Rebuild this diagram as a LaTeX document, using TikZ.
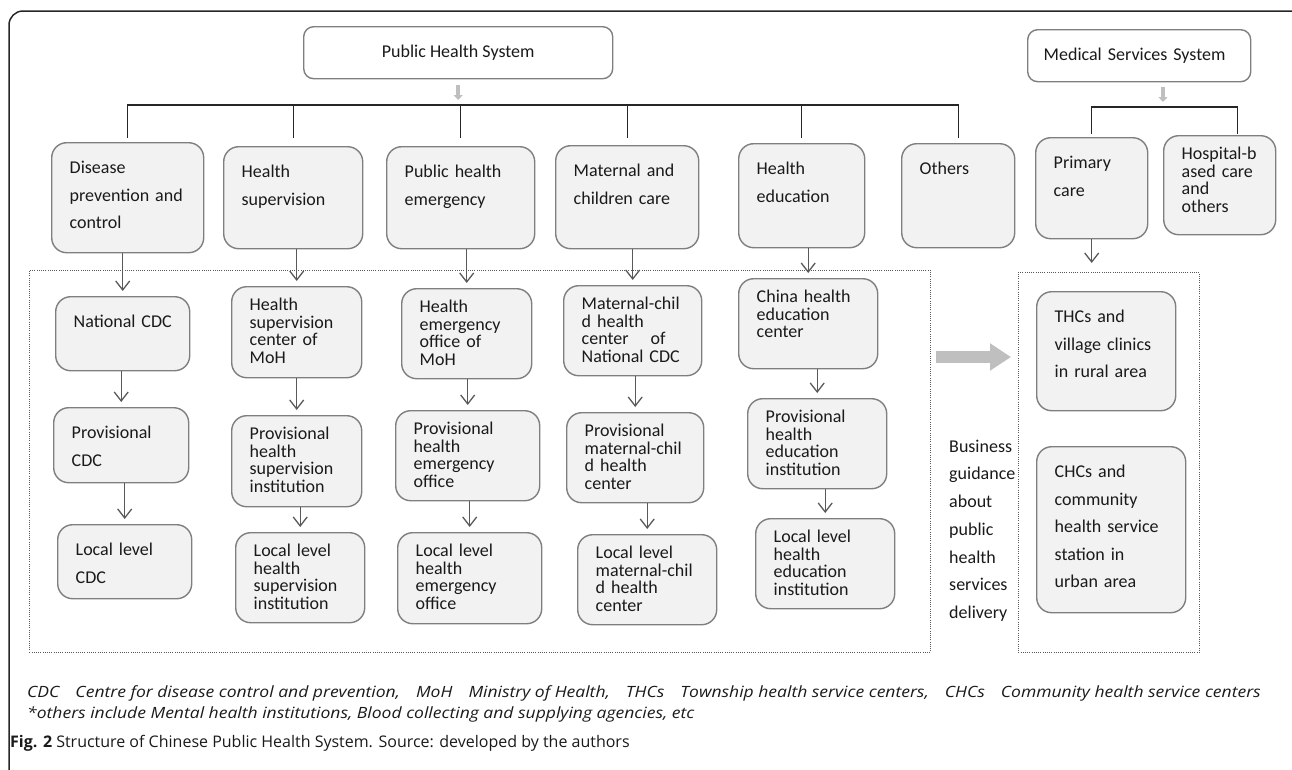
\documentclass[tikz,border=0pt]{standalone}
\usepackage{fontspec}
\setmainfont{Carlito}
\newfontfamily\capfont{Open Sans}
\newfontfamily\notefont{Open Sans}[FakeStretch=1.13]
\usepackage{tikz}
\usetikzlibrary{arrows.meta,positioning,calc}
\definecolor{Ink}{HTML}{1A1A1A}
\definecolor{Frame}{HTML}{262626}
\definecolor{Edge}{HTML}{7F7F7F}
\definecolor{Cell}{HTML}{F2F2F2}
\definecolor{Wire}{HTML}{595959}
\definecolor{Guide}{HTML}{BFBFBF}
\newcommand\tightfont{\fontsize{18}{17.5}\selectfont}
\newcommand\loosefont{\fontsize{18}{27.5}\selectfont}
\tikzset{
  cell/.style={draw=Edge,fill=Cell,line width=1.4pt,rounded corners=15pt,anchor=north west,align=left,inner xsep=10pt,inner ysep=8pt,text=Ink,execute at begin node={\leftskip=8pt\relax}},
  tbox/.style 2 args={cell,font=\tightfont,text height=16pt,text width=#1pt-20pt,text depth=#2pt-32pt},
  lbox/.style 2 args={cell,font=\loosefont,text height=23pt,text width=#1pt-20pt,text depth=#2pt-39pt},
  head/.style={draw=Edge,fill=white,line width=1.4pt,rounded corners=10pt,anchor=north west,minimum height=52pt,font=\fontsize{18}{20}\selectfont,text=Ink},
  grp/.style={draw=Wire,line width=0.8pt,dash pattern=on 1pt off 1.2pt,anchor=north west},
  link/.style={draw=Frame,line width=1.3pt},
  arrow/.style={-{Straight Barb[length=9pt,width=14pt]},draw=Wire,line width=1.3pt,shorten >=5pt},
  stub/.style={-{Triangle[length=5pt,width=9pt]},draw=Guide,line width=3.5pt},
  bigArrow/.style={-{Triangle[length=21pt,width=26pt]},draw=Guide,line width=12pt},
  caption/.style={anchor=base west,inner sep=0pt,text=Ink}
}

\begin{document}
\begin{tikzpicture}[x=1pt,y=-1pt]
\clip (0,0) rectangle (1292,769);
\draw[Frame,line width=1.5pt,rounded corners=14pt] (9,790) -- (9,11) -- (1306,11) -- (1306,60);

\node[head,minimum width=309pt] (pubsys) at (303,26) {Public Health System};
\node[head,text width=191pt,align=left,inner xsep=16pt] (medsys) at (1027,29) {Medical Services System};

\node[lbox={152}{110}] (cat1) at (51,142) {Disease\\prevention and\\control};
\node[lbox={139}{102}] (cat2) at (223,146) {Health\\supervision};
\node[lbox={148}{102}] (cat3) at (386,146) {Public health\\emergency};
\node[lbox={143}{103}] (cat4) at (555,145) {Maternal and\\children care};
\node[lbox={126}{104}] (cat5) at (738,143) {Health\\education};
\node[lbox={113}{104}] (cat6) at (901,143) {Others};
\node[lbox={112}{101}] (prim) at (1035,137) {Primary\\care};
\node[tbox={112}{99}] (hosp) at (1163,135) {Hospital-b\\ased care\\and\\others};

\node[grp,minimum width=901pt,minimum height=382pt] (leftgrp) at (29,270) {};
\node[grp,minimum width=181pt,minimum height=380pt] (rightgrp) at (1018,272) {};

\node[lbox={134}{74}] (natcdc) at (55,296) {National CDC};
\node[lbox={135}{75}] (provcdc) at (53,407) {Provisional\\CDC};
\node[lbox={134}{74}] (loccdc) at (57,524) {Local level\\CDC};

\node[tbox={130}{91}] (natsup) at (231,286) {Health\\supervision\\center of\\MoH};
\node[tbox={130}{91}] (provsup) at (231,415) {Provisional\\health\\supervision\\institution};
\node[tbox={129}{90}] (locsup) at (235,532) {Local level\\health\\supervision\\institution};

\node[tbox={130}{90}] (natemg) at (401,288) {Health\\emergency\\office of\\MoH};
\node[tbox={144}{90}] (provemg) at (395,410) {Provisional\\health\\emergency\\office};
\node[tbox={144}{91}] (locemg) at (397,532) {Local level\\health\\emergency\\office};

\node[tbox={138}{90}] (natmch) at (563,285) {Maternal-chil\\d health\\center\hspace{22pt}of\\National CDC};
\node[tbox={137}{90}] (provmch) at (566,412) {Provisional\\maternal-chil\\d health\\center};
\node[tbox={139}{90}] (locmch) at (577,534) {Local level\\maternal-chil\\d health\\center};

\node[tbox={139}{90}] (nathe) at (738,278) {China health\\education\\center};
\node[tbox={139}{90}] (provhe) at (747,398) {Provisional\\health\\education\\institution};
\node[tbox={139}{90}] (loche) at (755,518) {Local level\\health\\education\\institution};

\node[lbox={139}{119}] (thc) at (1036,291) {THCs and\\village clinics\\in rural area};
\node[lbox={149}{166}] (chc) at (1036,446) {CHCs and\\community\\health service\\station in\\urban area};

\node[anchor=north west,inner sep=0pt,text width=80pt,align=left,text height=13pt,font=\fontsize{18}{27.7}\selectfont,text=Ink] (guide) at (949,439) {Business\\guidance\\about\\public\\health\\services\\delivery};

\coordinate (pubhub) at (pubsys.south |- 0,105);
\coordinate (droplvl) at (0,138);
\draw[stub] ([yshift=-6pt]pubsys.south) -- ([yshift=5pt]pubhub);
\draw[link] (cat1.north |- droplvl) -- (cat1.north |- pubhub) -- (cat6.north |- pubhub) -- (cat6.north |- droplvl);
\foreach \c in {cat2,cat3,cat4,cat5}
  \draw[link] (\c.north |- pubhub) -- (\c.north |- droplvl);

\coordinate (medhub) at (1163,107);
\coordinate (medlvl) at (0,134);
\draw[stub] (medhub |- medsys.south) ++(0,5) -- ([yshift=5pt]medhub);
\draw[link] (prim.north |- medlvl) -- (prim.north |- medhub) -- ([xshift=18pt]hosp.north |- medhub) -- ([xshift=18pt]hosp.north |- medlvl);

\foreach \a/\b in {cat1/natcdc,natcdc/provcdc,provcdc/loccdc,cat2/natsup,natsup/provsup,provsup/locsup,cat3/natemg,natemg/provemg,provemg/locemg,cat4/natmch,natmch/provmch,provmch/locmch,cat5/nathe,nathe/provhe,provhe/loche}
  \draw[arrow] (\b.north |- \a.south) -- (\b.north);
\draw[arrow,shorten >=9pt] (prim.south) -- (prim.south |- rightgrp.north);

\coordinate (guidelvl) at (0,357);
\draw[bigArrow,shorten <=5pt,shorten >=7pt] (leftgrp.east |- guidelvl) -- (rightgrp.west |- guidelvl);

\node[caption,font=\notefont\itshape\fontsize{15.5}{18}\selectfont] (abbr) at (27,697) {CDC\hspace{16pt}Centre for disease control and prevention,\hspace{16pt}MoH\hspace{16pt}Ministry of Health,\hspace{16pt}THCs\hspace{16pt}Township health service centers,\hspace{16pt}CHCs\hspace{16pt}Community health service centers};
\node[caption,font=\notefont\itshape\fontsize{15.5}{18}\selectfont] (others) at (27,718) {*others include Mental health institutions, Blood collecting and supplying agencies, etc};
\node[caption,font=\capfont\fontsize{16}{18}\selectfont] (fig) at (10,747) {\textbf{Fig. 2} Structure of Chinese Public Health System. Source: developed by the authors};
\end{tikzpicture}
\end{document}
